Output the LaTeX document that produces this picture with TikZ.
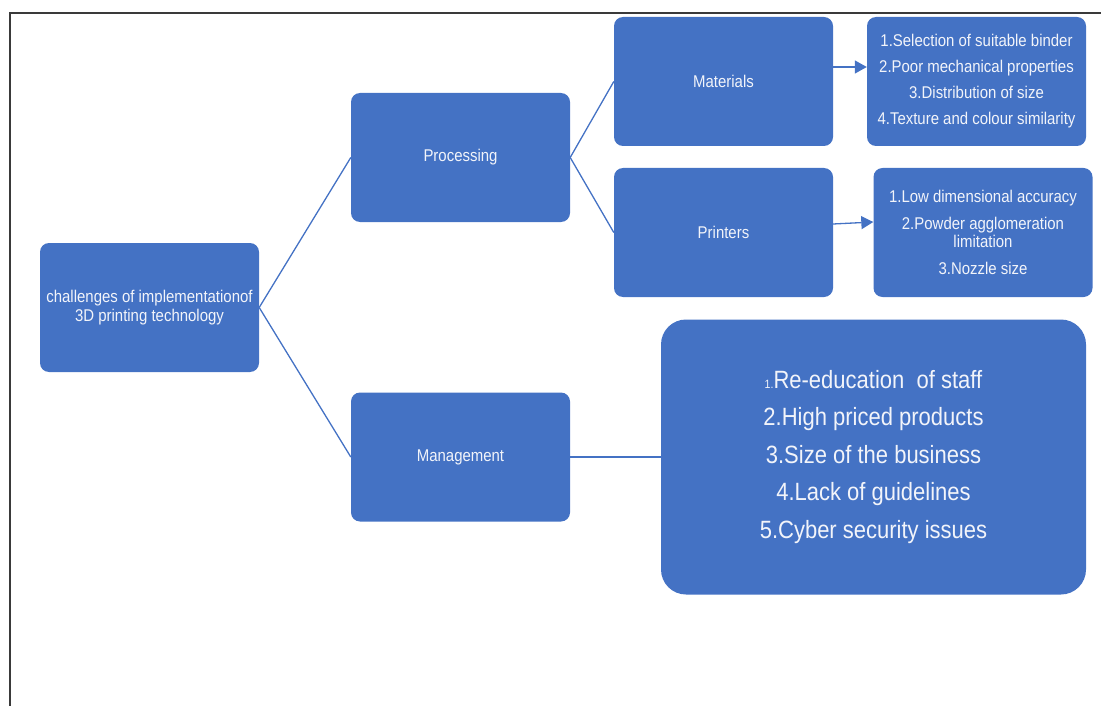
\documentclass[tikz,border=0pt]{standalone}
\usepackage{fontspec}
\setmainfont[FakeStretch=0.88]{Liberation Sans}
\usetikzlibrary{arrows.meta}
\definecolor{boxblue}{HTML}{4472C4}
\definecolor{boxtext}{HTML}{F2F4FA}
\definecolor{framegray}{HTML}{3A3A3A}
\begin{document}
\begin{tikzpicture}[x=1pt,y=-1pt,
  blk/.style={fill=boxblue, draw=none, rounded corners=9pt, text=boxtext, inner sep=0pt, align=center,
    minimum width=219pt, minimum height=129pt, font=\fontsize{17}{19}\selectfont},
  conn/.style={draw=boxblue, line width=1.3pt},
  arr/.style={conn, -{Triangle[length=12pt,width=13pt]}}]
\useasboundingbox (0,0) rectangle (1101,706);
\draw[framegray, line width=2pt] (10,706) -- (10,13) -- (1101,13);
% level 0 and 1
\node[blk] (root) at (149.5,307.5) {challenges of implementationof\\3D printing technology};
\node[blk] (proc) at (460.5,157.5) {Processing};
\node[blk] (mgmt) at (460.5,457) {Management};
% level 2
\node[blk] (mat) at (723.5,81.5) {Materials};
\node[blk] (prn) at (723.5,232.5) {Printers};
% lists
\node[blk, font=\fontsize{17}{26}\selectfont] (matlist) at (976.5,81.5)
  {1.Selection of suitable binder\\2.Poor mechanical properties\\3.Distribution of size\\4.Texture and colour similarity};
\node[blk, font=\fontsize{17}{18}\selectfont] (prnlist) at (983,232.5)
  {1.Low dimensional accuracy\\[9pt]2.Powder agglomeration\\limitation\\[9pt]3.Nozzle size};
\node[blk, minimum width=425pt, minimum height=275pt, rounded corners=25pt, font=\fontsize{25}{37.5}\selectfont] (mgmtlist) at (873.5,457)
  {{\fontsize{12}{12}\selectfont 1.}Re-education\ \ of staff\\2.High priced products\\3.Size of the business\\4.Lack of guidelines\\5.Cyber security issues};
% connectors
\draw[conn] (root.east) -- (proc.west);
\draw[conn] (root.east) -- (mgmt.west);
\draw[conn] (proc.east) -- (mat.west);
\draw[conn] (proc.east) -- (prn.west);
\draw[conn, line width=1.6pt] (mgmt.east) -- (mgmtlist.west);
\draw[arr] ([yshift=14.5pt]mat.east) -- ([yshift=14.5pt]matlist.west);
\draw[arr] ([yshift=8.5pt]prn.east) -- ([yshift=10.5pt]prnlist.west);
\end{tikzpicture}
\end{document}
